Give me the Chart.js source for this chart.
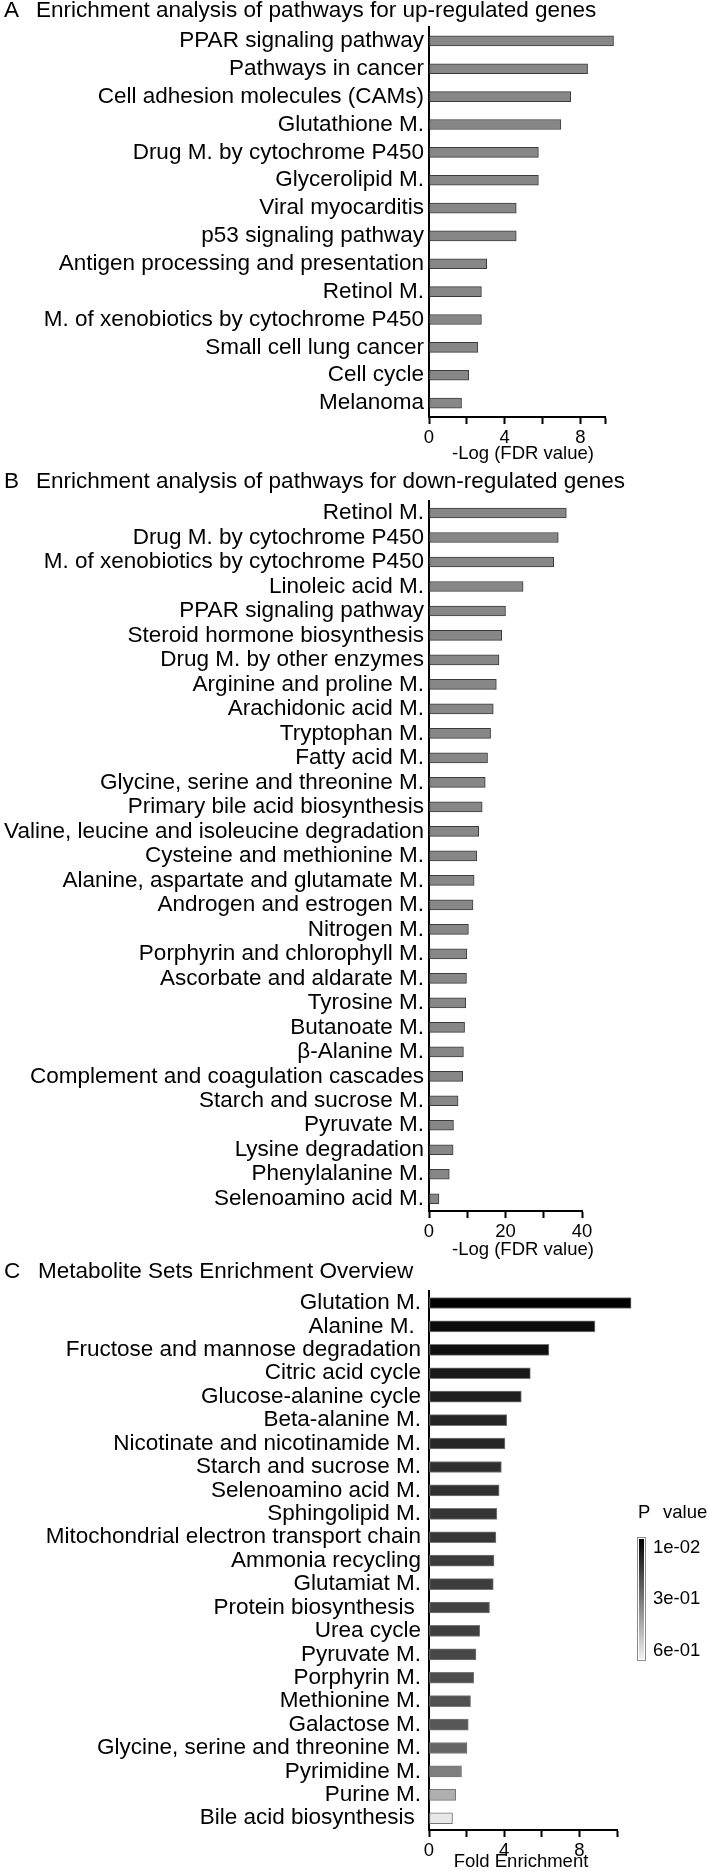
<!DOCTYPE html>
<html>
<head>
<meta charset="utf-8">
<script src="https://cdn.jsdelivr.net/npm/chart.js@4.4.1/dist/chart.umd.min.js"></script>
<style>
  body { margin: 0; background: #fff; }
  #page { position: relative; width: 709px; height: 1871px; overflow: hidden; background: #fff;
          font-family: 'Liberation Sans', Arial, sans-serif; color: #000; }
  #page canvas { position: absolute; left: 0; }
  .txt { position: absolute; white-space: pre; line-height: 1; }
  .head { font-size: 22.5px; }
  .axt { font-size: 18.5px; width: 300px; text-align: center; }
  .leg { font-size: 18.5px; }
  #pbar { position: absolute; left: 637px; top: 1537px; width: 9px; height: 124px; box-sizing: border-box;
          border: 1px solid #8a8a8a; padding: 1px; background: #fff; }
  #pbar div { width: 100%; height: 100%; }
</style>
</head>
<body>
<div id="page">
  <canvas id="chartUp" width="709" height="447" style="top:0px"></canvas>
  <canvas id="chartDown" width="709" height="771" style="top:470px"></canvas>
  <canvas id="chartMet" width="709" height="600" style="top:1260px"></canvas>

  <div class="txt head" style="left:4px;top:-1px">A</div>
  <div class="txt head" style="left:36px;top:-1px">Enrichment analysis of pathways for up-regulated genes</div>
  <div class="txt axt" style="left:373px;top:444px">-Log (FDR value)</div>

  <div class="txt head" style="left:4px;top:470px">B</div>
  <div class="txt head" style="left:36px;top:470px">Enrichment analysis of pathways for down-regulated genes</div>
  <div class="txt axt" style="left:373px;top:1240px">-Log (FDR value)</div>

  <div class="txt head" style="left:4px;top:1260px">C</div>
  <div class="txt head" style="left:38px;top:1260px">Metabolite Sets Enrichment Overview</div>
  <div class="txt axt" style="left:371px;top:1852px">Fold Enrichment</div>

  <div class="txt leg" style="left:638px;top:1503px">P</div>
  <div class="txt leg" style="left:663px;top:1503px">value</div>
  <div id="pbar"><div></div></div>
  <div class="txt leg" style="left:653px;top:1538px">1e-02</div>
  <div class="txt leg" style="left:653px;top:1589px">3e-01</div>
  <div class="txt leg" style="left:653px;top:1641px">6e-01</div>
</div>

<script>
// A: up-regulated genes
const upLabels = ['PPAR signaling pathway', 'Pathways in cancer', 'Cell adhesion molecules (CAMs)',
  'Glutathione M.', 'Drug M. by cytochrome P450', 'Glycerolipid M.', 'Viral myocarditis',
  'p53 signaling pathway', 'Antigen processing and presentation', 'Retinol M.',
  'M. of xenobiotics by cytochrome P450', 'Small cell lung cancer', 'Cell cycle', 'Melanoma'];
const upValues = [9.75, 8.38, 7.49, 6.97, 5.78, 5.78, 4.61, 4.61, 3.05, 2.77, 2.77, 2.58, 2.10, 1.72];
const upTicks = [0, 2, 4, 6, 8, 9.3];
const upTickLabels = ['0', '', '4', '', '8', ''];

// B: down-regulated genes
const downLabels = ['Retinol M.', 'Drug M. by cytochrome P450', 'M. of xenobiotics by cytochrome P450',
  'Linoleic acid M.', 'PPAR signaling pathway', 'Steroid hormone biosynthesis', 'Drug M. by other enzymes',
  'Arginine and proline M.', 'Arachidonic acid M.', 'Tryptophan M.', 'Fatty acid M.',
  'Glycine, serine and threonine M.', 'Primary bile acid biosynthesis',
  'Valine, leucine and isoleucine degradation', 'Cysteine and methionine M.',
  'Alanine, aspartate and glutamate M.', 'Androgen and estrogen M.', 'Nitrogen M.',
  'Porphyrin and chlorophyll M.', 'Ascorbate and aldarate M.', 'Tyrosine M.', 'Butanoate M.',
  'β-Alanine M.', 'Complement and coagulation cascades', 'Starch and sucrose M.', 'Pyruvate M.',
  'Lysine degradation', 'Phenylalanine M.', 'Selenoamino acid M.'];
const downValues = [35.9, 33.8, 32.6, 24.6, 20.0, 19.0, 18.3, 17.6, 16.8, 16.1, 15.3, 14.7, 13.9, 13.0,
  12.5, 11.8, 11.5, 10.3, 9.9, 9.8, 9.6, 9.3, 9.0, 8.8, 7.6, 6.4, 6.3, 5.3, 2.6];
const downTicks = [0, 10, 20, 30, 40];
const downTickLabels = ['0', '', '20', '', '40'];

// C: metabolite sets
const metLabels = ['Glutation M.', 'Alanine M. ', 'Fructose and mannose degradation', 'Citric acid cycle',
  'Glucose-alanine cycle', 'Beta-alanine M.', 'Nicotinate and nicotinamide M.', 'Starch and sucrose M.',
  'Selenoamino acid M.', 'Sphingolipid M.', 'Mitochondrial electron transport chain', 'Ammonia recycling',
  'Glutamiat M.', 'Protein biosynthesis ', 'Urea cycle', 'Pyruvate M.', 'Porphyrin M.', 'Methionine M.',
  'Galactose M.', 'Glycine, serine and threonine M.', 'Pyrimidine M.', 'Purine M.', 'Bile acid biosynthesis '];
const metFold = [10.75, 8.83, 6.38, 5.39, 4.91, 4.14, 4.04, 3.85, 3.73, 3.61, 3.56, 3.46, 3.42, 3.22,
  2.70, 2.50, 2.38, 2.21, 2.09, 2.02, 1.73, 1.42, 1.25];
const metP = [0.01, 0.04, 0.05, 0.07, 0.085, 0.10, 0.105, 0.125, 0.13, 0.14, 0.145, 0.155, 0.16, 0.17,
  0.165, 0.185, 0.20, 0.21, 0.225, 0.255, 0.32, 0.44, 0.58];
const metTicks = [0, 2, 4, 6, 8, 10];
const metTickLabels = ['0', '', '4', '', '8', ''];

const pMin = 0.01, pMax = 0.6;
const FONT = "'Liberation Sans', Arial, sans-serif";

// p value -> grey, black for small p
function colorFor(p) {
  var t = Math.min(1, Math.max(0, (p - pMin) / (pMax - pMin)));
  var g = Math.round(t * 240);
  return 'rgb(' + g + ',' + g + ',' + g + ')';
}

document.querySelector('#pbar div').style.background =
  'linear-gradient(to bottom, ' + colorFor(pMin) + ', ' + colorFor(pMax) + ')';

function hbar(id, labels, values, opt) {
  return new Chart(document.getElementById(id), {
    type: 'bar',
    data: {
      labels: labels,
      datasets: [{
        data: values,
        backgroundColor: opt.fill,
        borderColor: opt.border,
        borderWidth: 1,
        borderSkipped: false,
        barThickness: opt.thick,
        clip: false
      }]
    },
    options: {
      indexAxis: 'y',
      responsive: false,
      animation: false,
      devicePixelRatio: 1,
      layout: { padding: { top: opt.top, right: opt.right, left: 0, bottom: 0 } },
      plugins: { legend: { display: false }, tooltip: { enabled: false } },
      scales: {
        y: {
          ticks: { autoSkip: false, padding: opt.labelPad, color: '#000', font: { family: FONT, size: 22.5 } },
          grid: { display: false, drawTicks: false },
          border: { color: '#000', width: 2 },
          afterFit: function(s) { s.width = 429; }
        },
        x: {
          min: 0,
          max: opt.max,
          afterBuildTicks: function(s) { s.ticks = opt.ticks.map(function(v) { return { value: v }; }); },
          ticks: {
            autoSkip: false, maxRotation: 0, padding: 3, color: '#000',
            font: { family: FONT, size: 18.5 },
            callback: function(v, i) { return opt.tickLabels[i]; }
          },
          grid: { drawOnChartArea: false, drawTicks: true, tickLength: 7, tickWidth: 2, color: '#000' },
          border: { color: '#000', width: 2 },
          afterFit: function(s) { s.height = 30; }
        }
      }
    }
  });
}

hbar('chartUp', upLabels, upValues, {
  fill: '#878787', border: '#3c3c3c', thick: 10, top: 27, right: 104, labelPad: 5,
  max: 9.3, ticks: upTicks, tickLabels: upTickLabels
});

hbar('chartDown', downLabels, downValues, {
  fill: '#878787', border: '#3c3c3c', thick: 10, top: 30.75, right: 127, labelPad: 5,
  max: 40, ticks: downTicks, tickLabels: downTickLabels
});

hbar('chartMet', metLabels, metFold, {
  fill: metP.map(colorFor), border: '#777', thick: 11, top: 31.3, right: 92, labelPad: 8,
  max: 10, ticks: metTicks, tickLabels: metTickLabels
});
</script>
</body>
</html>
